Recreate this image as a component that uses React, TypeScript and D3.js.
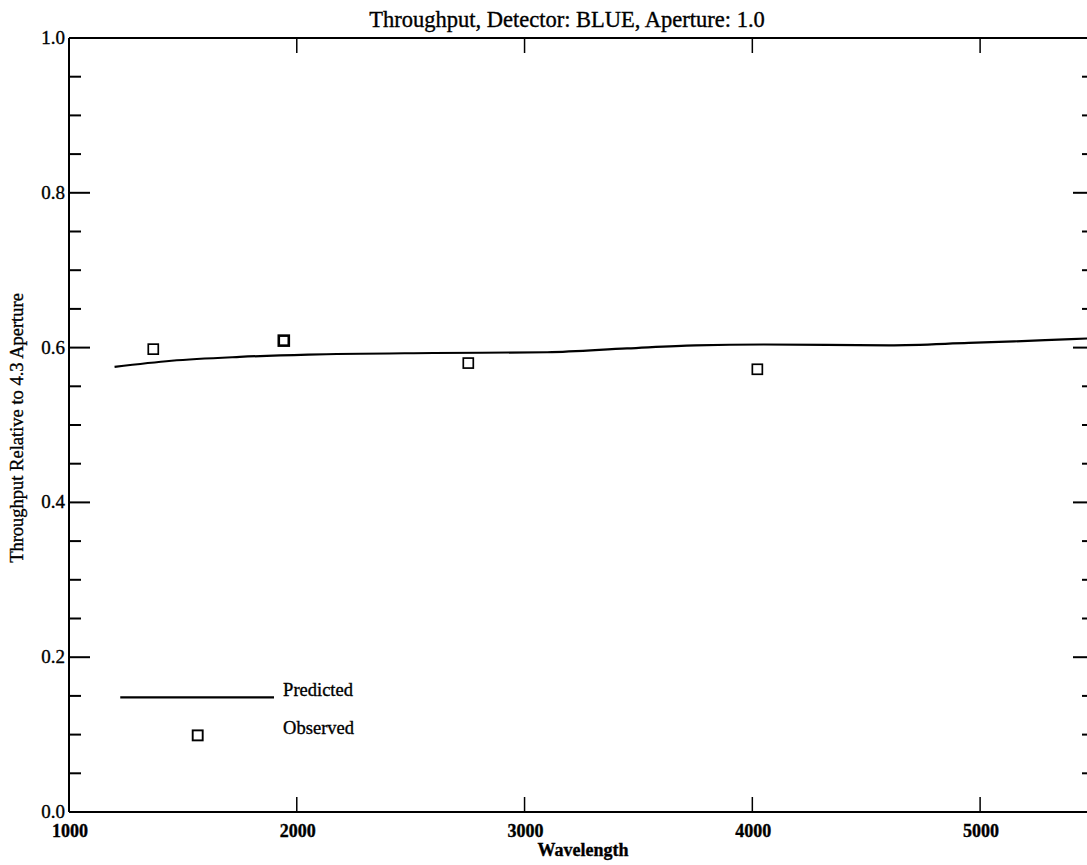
import React, { useEffect, useRef } from 'react';
import * as d3 from 'd3';

// predicted throughput curve (wavelength, relative throughput)
const predictedWave = [1200, 1450, 1750, 2050, 2600, 3100, 3450, 3750, 4050, 4600, 4950, 5150, 5400, 5490];
const predictedValue = [0.575, 0.583, 0.588, 0.591, 0.593, 0.594, 0.599, 0.603, 0.604, 0.603, 0.606, 0.608, 0.611, 0.612];

// observed points
const observedWave = [1370, 1943, 2753, 4022];
const observedValue = [0.598, 0.609, 0.58, 0.572];

const xTicks = [1000, 2000, 3000, 4000, 5000];
const yTicks = [0.0, 0.2, 0.4, 0.6, 0.8, 1.0];
const yMinorTicks = d3.range(0, 1.0001, 0.05);

// legend placement in data units
const legendLine = { x1: 1225, x2: 1900, y: 0.148 };
const legendMarker = { x: 1565, y: 0.099 };
const legendTextX = 1940;

const App: React.FC = () => {
  const containerRef = useRef<HTMLDivElement | null>(null);

  useEffect(() => {
    if (!containerRef.current) return;
    containerRef.current.innerHTML = '';

    const width = 1087;
    const height = 865;
    const plot = { left: 69, right: 1094, top: 38, bottom: 812 };
    const font = '"Liberation Serif", "Times New Roman", serif';

    const xScale = d3.scaleLinear().domain([1000, 5500]).range([plot.left, plot.right]);
    const yScale = d3.scaleLinear().domain([0, 1]).range([plot.bottom, plot.top]);

    const svg = d3
      .select(containerRef.current)
      .append('svg')
      .attr('width', width)
      .attr('height', height)
      .style('display', 'block')
      .style('background', '#fff');

    // scanned look: slightly heavier glyphs
    const textStyle = (sel: d3.Selection<SVGTextElement, any, any, any>, size: number, bold = false) =>
      sel
        .attr('font-family', font)
        .attr('font-size', size)
        .attr('font-weight', bold ? 'bold' : 'normal')
        .attr('fill', '#000')
        .attr('stroke', '#000')
        .attr('stroke-width', 0.35);

    // frame
    const frame = svg.append('g').attr('stroke', '#000').attr('stroke-width', 2).attr('fill', 'none');
    frame.append('line').attr('x1', plot.left).attr('x2', plot.left).attr('y1', plot.top).attr('y2', plot.bottom);
    frame.append('line').attr('x1', plot.right).attr('x2', plot.right).attr('y1', plot.top).attr('y2', plot.bottom);
    frame.append('line').attr('x1', plot.left).attr('x2', plot.right).attr('y1', plot.top).attr('y2', plot.top);
    frame.append('line').attr('x1', plot.left).attr('x2', plot.right).attr('y1', plot.bottom).attr('y2', plot.bottom);

    // y ticks, both sides
    const ticks = svg.append('g').attr('stroke', '#000').attr('stroke-width', 2);
    yMinorTicks.forEach((v, i) => {
      const len = i % 4 === 0 ? 21 : 12;
      const y = yScale(v);
      ticks.append('line').attr('x1', plot.left).attr('x2', plot.left + len).attr('y1', y).attr('y2', y);
      ticks.append('line').attr('x1', plot.right).attr('x2', plot.right - len).attr('y1', y).attr('y2', y);
    });

    // x ticks, bottom and top
    xTicks.slice(1).forEach((v) => {
      const x = xScale(v);
      ticks.append('line').attr('x1', x).attr('x2', x).attr('y1', plot.bottom).attr('y2', plot.bottom - 15).attr('stroke-width', 1.5);
      ticks.append('line').attr('x1', x).attr('x2', x).attr('y1', plot.top).attr('y2', plot.top + 15).attr('stroke-width', 1.5);
    });

    // y tick labels
    svg
      .append('g')
      .selectAll('text')
      .data(yTicks)
      .join('text')
      .attr('x', plot.left - 4)
      .attr('y', (d) => yScale(d) + 6)
      .attr('text-anchor', 'end')
      .call((s) => textStyle(s as any, 19))
      .text((d) => d.toFixed(1));

    // x tick labels
    svg
      .append('g')
      .selectAll('text')
      .data(xTicks)
      .join('text')
      .attr('x', (d) => xScale(d) + 1)
      .attr('y', plot.bottom + 25)
      .attr('text-anchor', 'middle')
      .call((s) => textStyle(s as any, 18, true))
      .text((d) => d);

    // titles
    svg
      .append('text')
      .attr('x', 567)
      .attr('y', 27)
      .attr('text-anchor', 'middle')
      .call((s) => textStyle(s as any, 22.5))
      .text('Throughput, Detector: BLUE, Aperture: 1.0');

    svg
      .append('text')
      .attr('x', 583)
      .attr('y', plot.bottom + 44)
      .attr('text-anchor', 'middle')
      .call((s) => textStyle(s as any, 18, true))
      .text('Wavelength');

    svg
      .append('text')
      .attr('transform', `translate(23, ${428}) rotate(-90)`)
      .attr('text-anchor', 'middle')
      .call((s) => textStyle(s as any, 18.5))
      .text('Throughput Relative to 4.3 Aperture');

    // predicted line
    const predicted = predictedWave.map((w, i) => [w, predictedValue[i]] as [number, number]);
    const line = d3
      .line<[number, number]>()
      .curve(d3.curveMonotoneX)
      .x((d) => xScale(d[0]))
      .y((d) => yScale(d[1]));
    svg
      .append('path')
      .datum(predicted)
      .attr('d', line)
      .attr('fill', 'none')
      .attr('stroke', '#000')
      .attr('stroke-width', 2.2);

    // observed squares
    const sq = 10;
    svg
      .append('g')
      .selectAll('rect')
      .data(observedWave.map((w, i) => ({ w, v: observedValue[i] })))
      .join('rect')
      .attr('x', (d) => xScale(d.w) - sq / 2)
      .attr('y', (d) => yScale(d.v) - sq / 2)
      .attr('width', sq)
      .attr('height', sq)
      .attr('fill', 'none')
      .attr('stroke', '#000')
      .attr('stroke-width', (d, i) => (i === 1 ? 2.6 : 1.7));

    // legend
    const legend = svg.append('g');
    legend
      .append('line')
      .attr('x1', xScale(legendLine.x1))
      .attr('x2', xScale(legendLine.x2))
      .attr('y1', yScale(legendLine.y))
      .attr('y2', yScale(legendLine.y))
      .attr('stroke', '#000')
      .attr('stroke-width', 2.2);
    legend
      .append('rect')
      .attr('x', xScale(legendMarker.x) - sq / 2)
      .attr('y', yScale(legendMarker.y) - sq / 2)
      .attr('width', sq)
      .attr('height', sq)
      .attr('fill', 'none')
      .attr('stroke', '#000')
      .attr('stroke-width', 1.9);
    legend
      .append('text')
      .attr('x', xScale(legendTextX))
      .attr('y', yScale(legendLine.y) - 1)
      .call((s) => textStyle(s as any, 18.5))
      .text('Predicted');
    legend
      .append('text')
      .attr('x', xScale(legendTextX))
      .attr('y', yScale(legendMarker.y) - 1)
      .call((s) => textStyle(s as any, 18.5))
      .text('Observed');
  }, []);

  return <div ref={containerRef} style={{ position: 'absolute', left: 0, top: 0 }} />;
};

export default App;
